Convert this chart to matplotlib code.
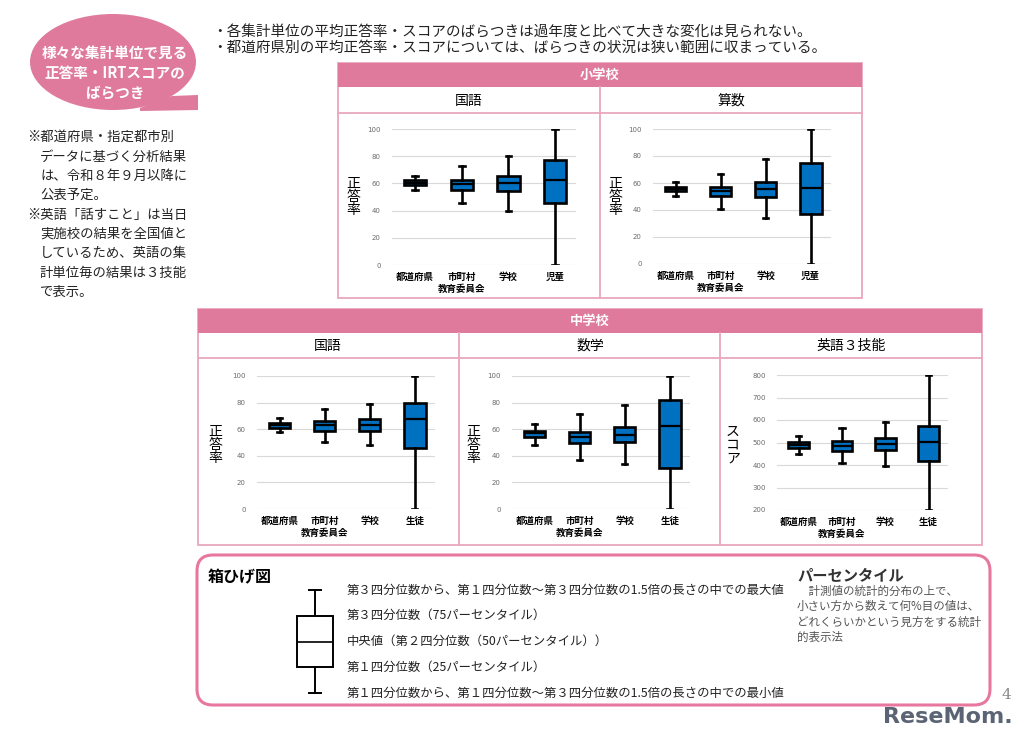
import numpy as np
import matplotlib.pyplot as plt
from matplotlib.patches import Rectangle, FancyBboxPatch, Ellipse, Polygon
from matplotlib.transforms import blended_transform_factory

plt.rcParams['font.family'] = ['Noto Sans CJK JP', 'DejaVu Sans']

W, H = 1024, 738
PINK = '#DF7A9C'
LIGHT = '#E9A7BE'
BLUE = '#0070C0'

# each row: [whisker low, Q1, median, Q3, whisker high]
units_es = ['都道府県', '市町村\n教育委員会', '学校', '児童']
units_js = ['都道府県', '市町村\n教育委員会', '学校', '生徒']

es_kokugo = [[55.5, 58.5, 60.3, 62.2, 65.6],
             [45.5, 55.3, 59.5, 62.7, 72.5],
             [40.0, 54.5, 60.2, 65.1, 80.0],
             [0.0, 45.5, 62.2, 77.4, 100.0]]
es_sansu = [[50.0, 54.0, 55.5, 57.0, 61.0],
            [41.0, 50.0, 54.0, 57.0, 67.0],
            [34.0, 49.5, 55.8, 60.8, 77.5],
            [0.0, 37.0, 56.0, 74.5, 100.0]]
js_kokugo = [[58.0, 61.0, 63.0, 65.0, 68.5],
             [50.5, 58.8, 63.0, 66.3, 75.0],
             [48.0, 59.0, 63.5, 67.5, 79.0],
             [0.0, 46.0, 67.5, 80.0, 100.0]]
js_sugaku = [[48.0, 53.8, 57.0, 58.5, 64.0],
             [36.8, 49.8, 54.3, 57.8, 71.8],
             [33.5, 50.3, 55.5, 61.3, 78.5],
             [0.0, 30.5, 62.5, 81.8, 100.0]]
js_eigo = [[447, 477, 489, 501, 530],
           [407, 464, 486, 508, 566],
           [394, 467, 492, 521, 593],
           [200, 418, 501, 575, 800]]

rate_ticks = [0, 20, 40, 60, 80, 100]
score_ticks = [200, 300, 400, 500, 600, 700, 800]

bullets = ['・各集計単位の平均正答率・スコアのばらつきは過年度と比べて大きな変化は見られない。',
           '・都道府県別の平均正答率・スコアについては、ばらつきの状況は狭い範囲に収まっている。']
notes = ['※都道府県・指定都市別', 'データに基づく分析結果', 'は、令和８年９月以降に', '公表予定。',
         '※英語「話すこと」は当日', '実施校の結果を全国値と', 'しているため、英語の集',
         '計単位毎の結果は３技能', 'で表示。']
bubble_lines = ['様々な集計単位で見る', '正答率・IRTスコアの', 'ばらつき']
legend_lines = ['第１四分位数から、第１四分位数～第３四分位数の1.5倍の長さの中での最小値',
                '第１四分位数（25パーセンタイル）',
                '中央値（第２四分位数（50パーセンタイル））',
                '第３四分位数（75パーセンタイル）',
                '第３四分位数から、第１四分位数～第３四分位数の1.5倍の長さの中での最大値']
legend_stats = [0, 1, 2, 3, 4]
pct_lines = ['　計測値の統計的分布の上で、', '小さい方から数えて何%目の値は、',
             'どれくらいかという見方をする統計', '的表示法']

fig = plt.figure(figsize=(10.24, 7.38), dpi=100)
bg = fig.add_axes([0, 0, 1, 1])
bg.set_xlim(0, W)
bg.set_ylim(H, 0)
bg.axis('off')


def px_axes(x0, y0, x1, y1):
    return fig.add_axes([x0 / W, 1 - y1 / H, (x1 - x0) / W, (y1 - y0) / H])


def draw_box(ax, rows, labels, ticks, tick_fmt):
    stats = [dict(whislo=r[0], q1=r[1], med=r[2], q3=r[3], whishi=r[4]) for r in rows]
    ax.bxp(stats, positions=range(1, len(rows) + 1), widths=0.48, capwidths=0.12,
           showfliers=False, patch_artist=True,
           boxprops=dict(facecolor=BLUE, edgecolor='black', linewidth=1.9),
           medianprops=dict(color='black', linewidth=1.6),
           whiskerprops=dict(color='black', linewidth=1.9),
           capprops=dict(color='black', linewidth=1.9))
    ax.set_xlim(0.5, 4.45)
    ax.set_ylim(ticks[0], ticks[-1])
    ax.set_yticks(ticks)
    ax.set_yticklabels([tick_fmt(t) for t in ticks], fontsize=5, color='#6b6b6b',
                       family='DejaVu Sans')
    ax.set_xticks(range(1, len(rows) + 1))
    ax.set_xticklabels(labels, fontsize=6.8, fontweight='bold', linespacing=1.3)
    ax.tick_params(length=0, axis='y', pad=8)
    ax.tick_params(length=0, axis='x', pad=5)
    ax.grid(axis='y', color='#d9d9d9', linewidth=0.8)
    ax.set_axisbelow(True)
    for s in ax.spines.values():
        s.set_visible(False)
    ax.patch.set_alpha(0)


# speech bubble
bg.add_patch(Polygon([(140, 108), (172, 96), (198, 95), (198, 110), (140, 111)],
                     closed=True, fc=PINK, ec='none'))
bg.add_patch(Ellipse((113, 62), 166, 96, fc=PINK, ec='none'))
for i, s in enumerate(bubble_lines):
    bg.text(115, 53 + 20 * i, s, color='white', fontsize=10.5, fontweight='bold',
            ha='center', va='center')

# notes
for i, s in enumerate(notes):
    x = 27 if s.startswith('※') else 40
    bg.text(x, 137 + 19.4 * i, s, fontsize=9.6, ha='left', va='center', color='#222222')

# bullets
for i, s in enumerate(bullets):
    bg.text(212, 33 + 15 * i, s, fontsize=10.5, ha='left', va='center', color='#222222')

# elementary panel frame
bg.add_patch(Rectangle((338, 63), 524, 235, fc='none', ec=LIGHT, lw=1.3))
bg.add_patch(Rectangle((338, 63), 524, 24, fc=PINK, ec='none'))
bg.plot([338, 862], [113, 113], color=LIGHT, lw=1.3)
bg.plot([600, 600], [87, 298], color=LIGHT, lw=1.3)
bg.text(600, 75, '小学校', color='white', fontsize=9.5, fontweight='bold', ha='center', va='center')
bg.text(469, 101, '国語', fontsize=10, ha='center', va='center')
bg.text(731, 101, '算数', fontsize=10, ha='center', va='center')

# junior high panel frame
bg.add_patch(Rectangle((198, 309), 784, 236, fc='none', ec=LIGHT, lw=1.3))
bg.add_patch(Rectangle((198, 309), 784, 24, fc=PINK, ec='none'))
bg.plot([198, 982], [358, 358], color=LIGHT, lw=1.3)
bg.plot([459, 459], [333, 545], color=LIGHT, lw=1.3)
bg.plot([720, 720], [333, 545], color=LIGHT, lw=1.3)
bg.text(590, 321, '中学校', color='white', fontsize=9.5, fontweight='bold', ha='center', va='center')
bg.text(328, 346, '国語', fontsize=10, ha='center', va='center')
bg.text(590, 346, '数学', fontsize=10, ha='center', va='center')
bg.text(851, 346, '英語３技能', fontsize=10, ha='center', va='center')

# y labels (stacked)
for x, y, s in [(353, 197, '正答率'), (615, 197, '正答率'), (215, 445, '正答率'),
                (473, 445, '正答率'), (733, 445, 'スコア')]:
    bg.text(x, y, '\n'.join(s), fontsize=10, ha='center', va='center', linespacing=0.95)

pct = lambda t: f'{t:d}'
draw_box(px_axes(392, 129, 576, 265), es_kokugo, units_es, rate_ticks, pct)
draw_box(px_axes(653, 129, 831, 264), es_sansu, units_es, rate_ticks, pct)
draw_box(px_axes(257, 376, 435, 509), js_kokugo, units_js, rate_ticks, pct)
draw_box(px_axes(512, 376, 690, 509), js_sugaku, units_js, rate_ticks, pct)
draw_box(px_axes(777, 375, 948, 510), js_eigo, units_js, score_ticks, pct)

# legend box
bg.add_patch(FancyBboxPatch((197, 555), 793, 150, boxstyle='round,pad=0,rounding_size=16',
                            fc='white', ec='#E8779F', lw=2.2))
bg.text(208, 577, '箱ひげ図', fontsize=11.5, fontweight='bold', ha='left', va='center')

leg = px_axes(285, 579.7, 345, 703.3)
leg.bxp([dict(whislo=legend_stats[0], q1=legend_stats[1], med=legend_stats[2],
              q3=legend_stats[3], whishi=legend_stats[4])],
        positions=[1], widths=0.6, capwidths=0.2, showfliers=False, patch_artist=True,
        boxprops=dict(facecolor='white', edgecolor='black', linewidth=1.4),
        medianprops=dict(color='black', linewidth=1.2),
        whiskerprops=dict(color='black', linewidth=1.4),
        capprops=dict(color='black', linewidth=1.4))
leg.set_xlim(0.5, 1.5)
leg.set_ylim(-0.4, 4.4)
leg.axis('off')
tr = blended_transform_factory(bg.transData, leg.transData)
for v, s in zip(legend_stats, legend_lines):
    leg.text(347, v, s, transform=tr, fontsize=8.9, ha='left', va='center', color='#222222')

bg.text(797, 575, 'パーセンタイル', fontsize=11, fontweight='bold', ha='left', va='center', color='#333333')
for i, s in enumerate(pct_lines):
    bg.text(797, 591 + 15.5 * i, s, fontsize=8.3, ha='left', va='center', color='#555555')

# page number and logo
bg.text(1006, 695, '4', fontsize=11, ha='center', va='center', color='#888888', family='DejaVu Serif')
bg.text(1013, 717, 'ReseMom.', fontsize=16, fontweight='bold', ha='right', va='center',
        color='#5a6474', family='DejaVu Sans')

fig.savefig('out.png', dpi=100)
